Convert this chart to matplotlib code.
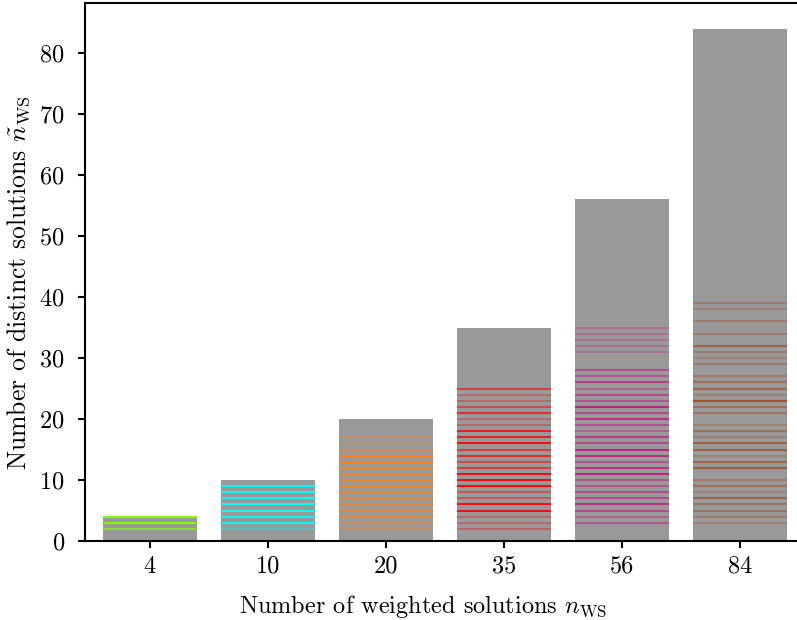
import numpy as np
import matplotlib.pyplot as plt

plt.rcParams['font.family'] = 'serif'
plt.rcParams['font.serif'] = ['cmr10']
plt.rcParams['mathtext.fontset'] = 'cm'
plt.rcParams['axes.formatter.use_mathtext'] = True
plt.rcParams['font.size'] = 17.5

# number of weighted solutions per case (bar heights)
n_ws = [4, 10, 20, 35, 56, 84]
colors = ['chartreuse', 'cyan', 'tab:orange', 'red', 'mediumvioletred', 'sienna']

# distinct-solution counts found for each case, with line opacity
levels_4 = [4, 3, 2]
alpha_4 = [1.0, 1.0, 0.6]

levels_10 = [9, 8, 7, 6, 5, 4, 3, 2]
alpha_10 = [0.9, 0.9, 0.9, 0.9, 0.9, 0.9, 0.9, 0.3]

levels_20 = [17, 16, 15, 14, 13, 12, 11, 10, 9, 8, 7, 6, 5, 4, 3, 2]
alpha_20 = [0.4, 0.25, 0.45, 0.9, 0.9, 0.8, 0.8, 0.8, 0.8, 0.75, 0.75, 0.7, 0.7, 0.75, 0.5, 0.3]

levels_35 = [25, 24, 23, 22, 21, 20, 19, 18, 17, 16, 15, 14, 13,
             12, 11, 10, 9, 8, 7, 6, 5, 4, 3, 2]
alpha_35 = [0.6, 0.3, 0.3, 0.5, 0.7, 0.3, 0.3, 0.8, 0.8, 0.9, 0.6, 0.7, 0.5,
            0.6, 0.9, 0.9, 0.9, 0.4, 0.4, 0.9, 0.9, 0.3, 0.3, 0.3]

levels_56 = [35, 34, 33, 32, 31, 28, 27, 26, 25, 24, 23, 22, 21, 20, 19, 18,
             17, 16, 15, 14, 13, 12, 11, 10, 9, 8, 7, 6, 5, 4, 3]
alpha_56 = [0.3, 0.3, 0.3, 0.3, 0.3, 0.6, 0.5, 0.7, 0.4, 0.6, 0.5, 0.9, 0.6, 0.8, 0.6, 0.4,
            0.7, 0.6, 0.9, 0.8, 0.5, 0.8, 0.9, 0.5, 0.5, 0.6, 0.6, 0.8, 0.6, 0.4, 0.5]

levels_84 = [39, 38, 36, 34, 32, 31, 30, 29, 27, 26, 25, 24, 23, 22, 21, 19,
             18, 17, 16, 15, 14, 13, 12, 10, 9, 8, 7, 6, 5, 4, 3]
alpha_84 = [0.4, 0.3, 0.4, 0.4, 0.7, 0.4, 0.3, 0.4, 0.4, 0.6, 0.7, 0.3, 1.0, 0.5, 0.5, 0.3,
            0.6, 0.3, 0.8, 0.8, 0.3, 0.7, 0.8, 0.4, 0.6, 0.3, 0.7, 0.5, 0.5, 0.4, 0.3]

levels = [levels_4, levels_10, levels_20, levels_35, levels_56, levels_84]
alphas = [alpha_4, alpha_10, alpha_20, alpha_35, alpha_56, alpha_84]

fig = plt.figure(figsize=(7.97, 6.2), dpi=100)
ax = fig.add_axes([85 / 797, 79 / 620, 720 / 797, 538 / 620])

x = np.arange(len(n_ws))
width = 0.8
ax.bar(x, n_ws, width=width, color='#999999', zorder=1)

for i in range(len(n_ws)):
    for lev, a in zip(levels[i], alphas[i]):
        ax.hlines(lev, x[i] - width / 2, x[i] + width / 2, color=colors[i],
                  alpha=a, linewidth=1.5, zorder=2)

ax.set_xticks(x, [str(n) for n in n_ws])
ax.set_yticks(np.arange(0, 81, 10))
ax.set_xlim(-0.55, 5.55)
ax.set_ylim(0, 88.2)
ax.set_xlabel(r'Number of weighted solutions $n_{\mathrm{WS}}$', labelpad=11, x=0.469)
ax.set_ylabel(r'Number of distinct solutions $\tilde{n}_{\mathrm{WS}}$',
              labelpad=5.5, y=0.48, fontsize=18.5)

for s in ax.spines.values():
    s.set_linewidth(1.5)
ax.tick_params(width=1.5, length=5)
ax.tick_params(axis='x', pad=5.5)
ax.tick_params(axis='y', pad=9.5)

fig.savefig('out.png', dpi=100)
